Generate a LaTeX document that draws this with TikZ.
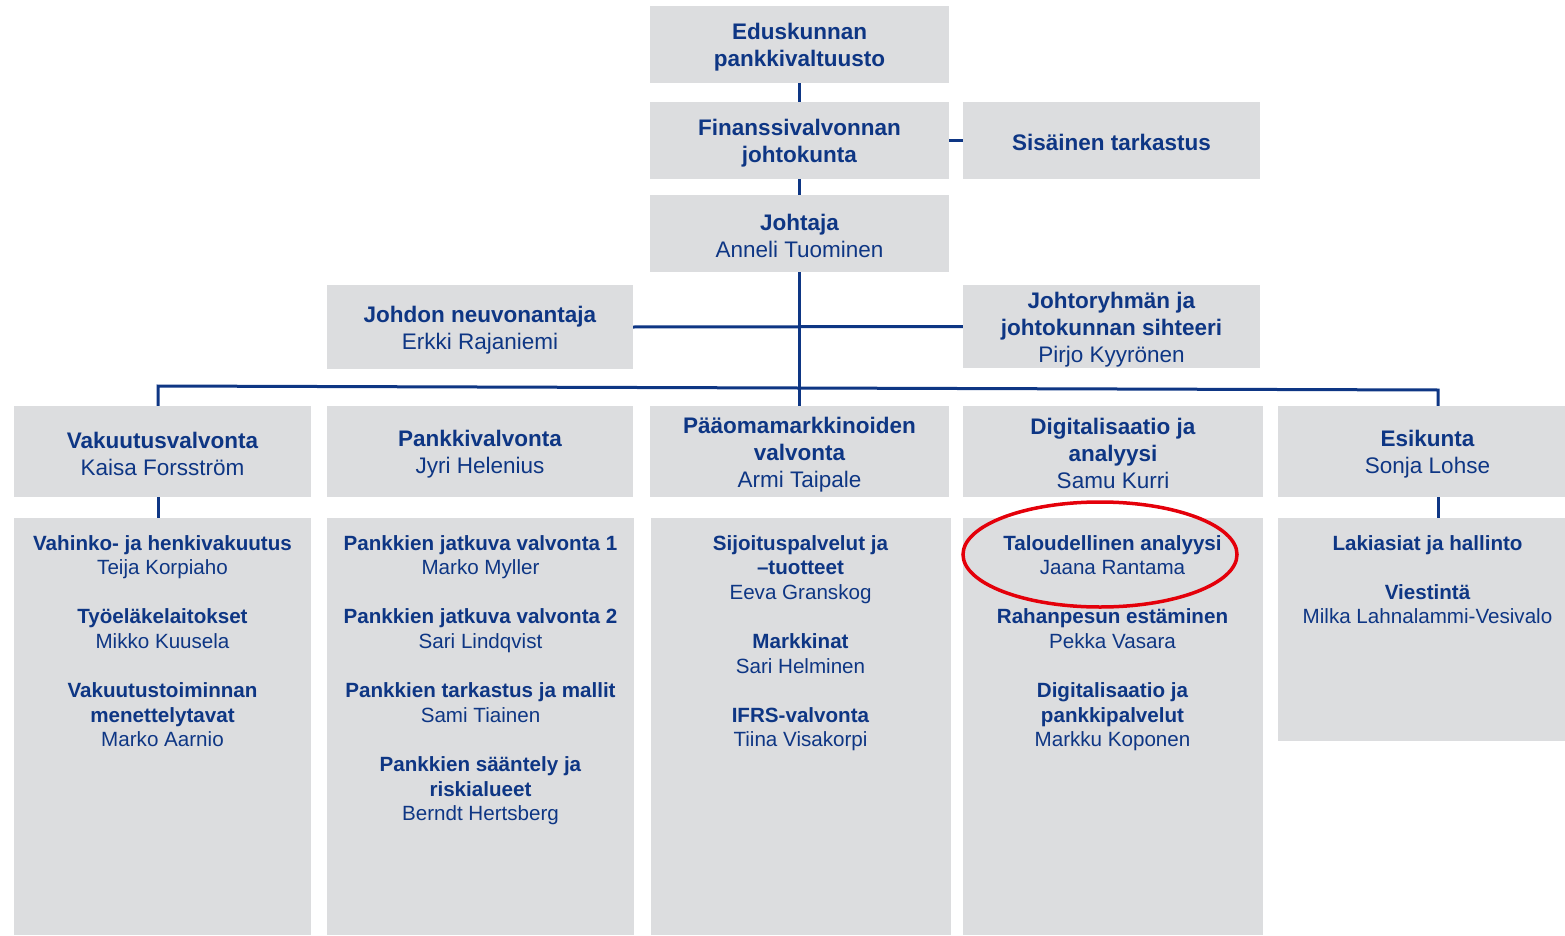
\documentclass[tikz,border=0pt]{standalone}
\usepackage{fontspec}
\setmainfont{Liberation Sans}
\definecolor{fvblue}{RGB}{14,54,132}
\definecolor{boxgrey}{RGB}{220,221,223}
\definecolor{ringred}{RGB}{228,0,10}
\newcommand\ls{\rule[-2pt]{0pt}{24pt}}
\tikzset{
  box/.style={fill=boxgrey, draw=none, inner sep=0pt, align=center, text=fvblue,
    font=\fontsize{22.5}{27}\selectfont},
  lowbox/.style={fill=boxgrey, draw=none, inner sep=0pt},
  lowtext/.style={inner sep=0pt, align=center, text=fvblue, anchor=north,
    font=\fontsize{20.6}{24.6}\selectfont},
  link/.style={draw=fvblue, line width=3pt},
  redring/.style={draw=ringred, line width=3.5pt},
}
\begin{document}
\begin{tikzpicture}[x=1pt, y=-1pt]
\useasboundingbox (0,0) rectangle (1565,936);
\clip (0,0) rectangle (1565,936);
% top chain
\node[box, minimum width=299, minimum height=77] (edu) at (799.5,44.5) {\ls\textbf{Eduskunnan}\\\ls\textbf{pankkivaltuusto}};
\node[box, minimum width=299, minimum height=77] (fin) at (799.5,140.5) {\ls\textbf{Finanssivalvonnan}\\\ls\textbf{johtokunta}};
\node[box, minimum width=297, minimum height=77] (sis) at (1111.5,140.5) {\ls\textbf{Sisäinen tarkastus}};
\node[box, minimum width=299, minimum height=77] (joh) at (799.5,233.5) {\ls\textbf{Johtaja}\\\ls Anneli Tuominen};
\node[box, minimum width=306, minimum height=84] (neu) at (480,327) {\ls\textbf{Johdon neuvonantaja}\\\ls Erkki Rajaniemi};
\node[box, minimum width=297, minimum height=83] (sih) at (1111.5,326.5) {\ls\textbf{Johtoryhmän ja}\\\ls\textbf{johtokunnan sihteeri}\\\ls Pirjo Kyyrönen};
% second row
\node[box, minimum width=297, minimum height=91] (vak) at (162.5,451.5) {\ls\textbf{Vakuutusvalvonta}\\\ls Kaisa Forsström};
\node[box, minimum width=306, minimum height=91] (pan) at (480,451.5) {\ls\textbf{Pankkivalvonta}\\\ls Jyri Helenius};
\node[box, minimum width=299, minimum height=91] (paa) at (799.5,451.5) {\ls\textbf{Pääomamarkkinoiden}\\\ls\textbf{valvonta}\\\ls Armi Taipale};
\node[box, minimum width=300, minimum height=91] (dig) at (1113,451.5) {\ls\textbf{Digitalisaatio ja}\\\ls\textbf{analyysi}\\\ls Samu Kurri};
\node[box, minimum width=299, minimum height=91] (esi) at (1427.5,451.5) {\ls\textbf{Esikunta}\\\ls Sonja Lohse};
% third row boxes
\node[lowbox, minimum width=297, minimum height=417] (vakL) at (162.5,726.5) {};
\node[lowbox, minimum width=307, minimum height=417] (panL) at (480.5,726.5) {};
\node[lowbox, minimum width=300, minimum height=417] (paaL) at (801,726.5) {};
\node[lowbox, minimum width=300, minimum height=417] (digL) at (1113,726.5) {};
\node[lowbox, minimum width=299, minimum height=223] (esiL) at (1427.5,629.5) {};
% third row texts
\node[lowtext] (vakT) at (162.5,535) {\textbf{Vahinko- ja henkivakuutus}\\Teija Korpiaho\\[24.6pt]\textbf{Työeläkelaitokset}\\Mikko Kuusela\\[24.6pt]\textbf{Vakuutustoiminnan}\\\textbf{menettelytavat}\\Marko Aarnio};
\node[lowtext] (panT) at (480.5,535) {\textbf{Pankkien jatkuva valvonta 1}\\Marko Myller\\[24.6pt]\textbf{Pankkien jatkuva valvonta 2}\\Sari Lindqvist\\[24.6pt]\textbf{Pankkien tarkastus ja mallit}\\Sami Tiainen\\[24.6pt]\textbf{Pankkien sääntely ja}\\\textbf{riskialueet}\\Berndt Hertsberg};
\node[lowtext] (paaT) at (800.5,535) {\textbf{Sijoituspalvelut ja}\\\textbf{–tuotteet}\\Eeva Granskog\\[24.6pt]\textbf{Markkinat}\\Sari Helminen\\[24.6pt]\textbf{IFRS-valvonta}\\Tiina Visakorpi};
\node[lowtext] (digT) at (1112.5,535) {\textbf{Taloudellinen analyysi}\\Jaana Rantama\\[24.6pt]\textbf{Rahanpesun estäminen}\\Pekka Vasara\\[24.6pt]\textbf{Digitalisaatio ja}\\\textbf{pankkipalvelut}\\Markku Koponen};
\node[lowtext] (esiT) at (1427.5,535) {\textbf{Lakiasiat ja hallinto}\\[24.6pt]\textbf{Viestintä}\\Milka Lahnalammi-Vesivalo};
% connectors
\coordinate (barL) at (158,386);
\coordinate (barR) at (1438,390);
\draw[link] (edu.south) -- (fin.north);
\draw[link] (fin.south) -- (joh.north);
\draw[link] (fin.east) -- (sis.west);
\draw[link] (neu.east) -- (sih.west);
\draw[link] (joh.south) -- (paa.north);
\draw[link] (vak.north -| barL) -- (barL) -- (barR) -- (esi.north -| barR);
\draw[link] (vak.south -| barL) -- (vakL.north -| barL);
\draw[link] (esi.south -| barR) -- (esiL.north -| barR);
% highlight ring
\draw[redring] (1100,554.5) ellipse [x radius=137, y radius=52.5];
\end{tikzpicture}
\end{document}
